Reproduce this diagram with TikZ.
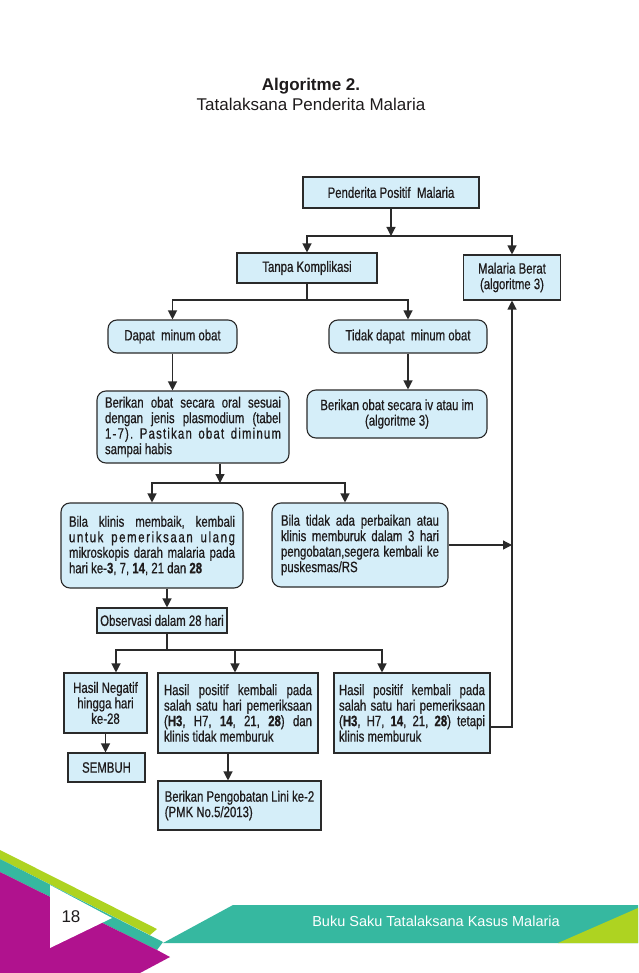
\documentclass[tikz,border=0pt]{standalone}
\usepackage{fontspec}
\setmainfont{Liberation Sans}
\newfontfamily\cond[FakeStretch=0.76,FakeBold=0.6]{Liberation Sans}
\usetikzlibrary{arrows.meta,calc}
\definecolor{boxfill}{HTML}{D5EEF9}
\definecolor{linec}{HTML}{2A2A2A}
\definecolor{txt}{HTML}{1E1B1C}
\definecolor{fmag}{HTML}{B0128E}
\definecolor{fteal}{HTML}{36B8A0}
\definecolor{flime}{HTML}{AED321}
\def\lsA{\hskip0pt plus1fill\relax}
\def\lsB{\hskip3pt plus3fill\relax}
\begin{document}
\begin{tikzpicture}[x=1pt,y=-1pt,
  box/.style={draw=linec, fill=boxfill, line width=1.1pt, inner ysep=2pt,
    font=\cond\fontsize{15}{15.5}\selectfont\frenchspacing, text=txt},
  rbox/.style={box, rounded corners=9pt},
  arr/.style={draw=linec, line width=1.2pt, -{Triangle[length=9pt,width=9pt]}},
  ln/.style={draw=linec, line width=1.2pt},
  ttl/.style={text=txt, font=\fontsize{17}{19}\selectfont},
]
\useasboundingbox (0,0) rectangle (638,973);
\fill[white] (0,0) rectangle (638,973);

% title
\node[ttl, font=\fontsize{17}{19}\selectfont\bfseries, anchor=base] (t1) at (311,91) {Algoritme 2.};
\node[ttl, anchor=base] (t2) at (311,111) {Tatalaksana Penderita Malaria};

% boxes
\node[box, minimum width=176pt, minimum height=31pt, align=center] (pos) at (391,192.5) {Penderita Positif\ \ Malaria};
\node[box, minimum width=140pt, minimum height=30pt, align=center] (tanpa) at (307,268) {Tanpa Komplikasi};
\node[box, minimum width=97pt, minimum height=45pt, align=center] (berat) at (512,277.5) {Malaria Berat\\(algoritme 3)};
\node[rbox, minimum width=129pt, minimum height=33pt, align=center] (dapat) at (172.5,336.5) {Dapat\ \ minum obat};
\node[rbox, minimum width=158pt, minimum height=33pt, align=center] (tidak) at (408,336.5) {Tidak dapat\ \ minum obat};
\node[rbox, text width=176pt, inner xsep=8pt, minimum height=72pt, align=justify] (oral) at (193,427) {Berikan obat secara oral sesuai\linebreak dengan jenis plasmodium (tabel\linebreak\hbox to\hsize{1\lsA -\lsA 7\lsA )\lsA .\lsB P\lsA a\lsA s\lsA t\lsA i\lsA k\lsA a\lsA n\lsB o\lsA b\lsA a\lsA t\lsB d\lsA i\lsA m\lsA i\lsA n\lsA u\lsA m}\linebreak sampai habis};
\node[rbox, minimum width=180pt, minimum height=48pt, align=center] (iv) at (397,414) {Berikan obat secara iv atau im\\(algoritme 3)};
\node[rbox, text width=166pt, inner xsep=8pt, minimum height=85pt, align=justify] (klinis) at (152,545.5) {Bila klinis membaik, kembali\linebreak\hbox to\hsize{u\lsA n\lsA t\lsA u\lsA k\lsB p\lsA e\lsA m\lsA e\lsA r\lsA i\lsA k\lsA s\lsA a\lsA a\lsA n\lsB u\lsA l\lsA a\lsA n\lsA g}\linebreak mikroskopis darah malaria pada\linebreak hari ke-\textbf{3}, 7, \textbf{14}, 21 dan \textbf{28}};
\node[rbox, text width=158pt, inner xsep=9pt, minimum height=84pt, align=justify] (tidakada) at (360,545) {Bila tidak ada perbaikan atau\linebreak klinis memburuk dalam 3 hari\linebreak pengobatan,segera kembali ke\linebreak puskesmas/RS};
\node[box, minimum width=130pt, minimum height=25pt, inner xsep=1pt, align=center] (obs) at (162,620.5) {Observasi dalam 28 hari};
\node[box, minimum width=83pt, minimum height=60pt, inner xsep=1pt, align=center] (neg) at (105.5,703) {Hasil Negatif\\hingga hari\\ke-28};
\node[box, minimum width=77pt, minimum height=29pt, align=center] (sembuh) at (106.5,767.5) {SEMBUH};
\node[box, text width=148pt, inner xsep=6pt, minimum height=80pt, align=justify] (pos1) at (238,713) {Hasil positif kembali pada\linebreak salah satu hari pemeriksaan\linebreak (\textbf{H3}, H7, \textbf{14}, 21, \textbf{28}) dan\linebreak klinis tidak memburuk};
\node[box, text width=146pt, inner xsep=5pt, minimum height=80pt, align=justify] (pos2) at (412,713) {Hasil positif kembali pada\linebreak salah satu hari pemeriksaan\linebreak (\textbf{H3}, H7, \textbf{14}, 21, \textbf{28}) tetapi\linebreak klinis memburuk};
\node[box, minimum width=163pt, minimum height=49pt, inner xsep=1pt, align=left] (lini) at (239.5,805.5) {Berikan Pengobatan Lini ke-2\\(PMK No.5/2013)};

% junctions
\coordinate (j1) at (391,236);
\coordinate (j2) at (307,300);
\coordinate (j3) at (220,483);
\coordinate (a4) at (345,483);
\coordinate (j5) at (167,650);
\coordinate (b1) at (116,650);
\coordinate (b2) at (235,650);
\coordinate (b3) at (382,650);
\coordinate (c6) at (228,753);
\coordinate (r1) at ($(pos2.east)+(0,14)$);

% connectors
\draw[arr] (pos.south) -- (j1);
\draw[arr] (j1) -| (tanpa.north);
\draw[arr] (j1) -| (berat.north);
\draw[ln] (tanpa.south) -- (j2);
\draw[arr] (j2) -| (dapat.north);
\draw[arr] (j2) -| (tidak.north);
\draw[arr] (dapat.south) -- (dapat.south |- oral.north);
\draw[arr] (tidak.south) -- (tidak.south |- iv.north);
\draw[arr] (j3 |- oral.south) -- (j3);
\draw[arr] (j3) -| (klinis.north);
\draw[arr] (j3) -- (a4) -- (a4 |- tidakada.north);
\draw[arr] (tidakada.east) -- (tidakada.east -| berat.south);
\draw[arr] (r1) -| (berat.south);
\draw[arr] (j5 |- klinis.south) -- (j5 |- obs.north);
\draw[ln] (j5 |- obs.south) -- (j5);
\draw[arr] (j5) -- (b1) -- (b1 |- neg.north);
\draw[arr] (b2) -- (b2 |- pos1.north);
\draw[arr] (j5) -- (b3) -- (b3 |- pos2.north);
\draw[arr] (neg.south) -- (neg.south |- sembuh.north);
\draw[arr] (c6) -- (c6 |- lini.north);

% footer
\fill[flime] (0,850) -- (157,929) -- (150,935) -- (0,859) -- cycle;
\fill[fteal] (0,859) -- (163,942) -- (157,950) -- (0,872) -- cycle;
\fill[fmag] (0,872) -- (157,950) -- (170,957) -- (140,973) -- (0,973) -- cycle;
\fill[white] (50,885) -- (112,918) -- (50,948) -- cycle;
\fill[fteal] (163,943) -- (233,905) -- (638,905) -- (638,943) -- cycle;
\fill[flime] (558,943) -- (638,908) -- (638,943) -- cycle;
\node[text=txt, font=\fontsize{17}{19}\selectfont] (pg) at (71,917) {18};
\node[text=white, font=\fontsize{14.5}{17}\selectfont] (ft) at (436,921) {Buku Saku Tatalaksana Kasus Malaria};
\end{tikzpicture}
\end{document}
